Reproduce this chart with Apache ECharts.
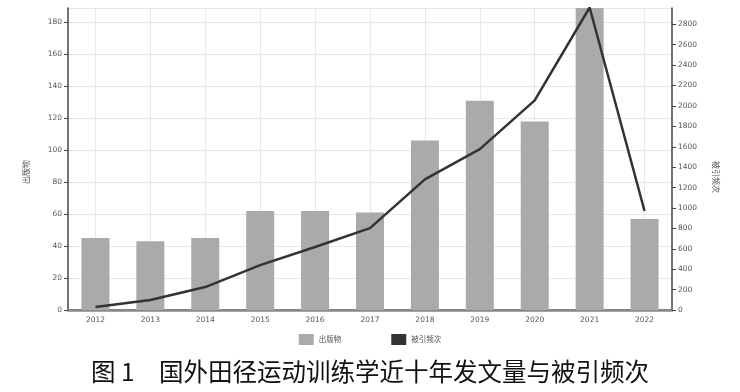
<!DOCTYPE html>
<html><head><meta charset="utf-8">
<script src="https://cdn.jsdelivr.net/npm/echarts@6/dist/echarts.min.js"></script>
<style>html,body{margin:0;padding:0;background:#fff}#c{width:740px;height:392px}</style>
</head><body><div id="c"></div>
<script>
const years = ['2012','2013','2014','2015','2016','2017','2018','2019','2020','2021','2022'];
const publications = [45, 43, 45, 62, 62, 61, 106, 131, 118, 189, 57];
const citations = [30, 98, 225, 440, 617, 803, 1280, 1577, 2055, 2965, 970];
const leftTicks = {min: 0, max: 189, interval: 20};
const rightTicks = {min: 0, max: 2960, interval: 200};

const chart = echarts.init(document.getElementById('c'));
const tickLabel = {fontSize: 7.5, color: '#555', fontFamily: 'DejaVu Sans'};
chart.setOption({
  animation: false,
  grid: {left: 68, right: 68, top: 8, bottom: 82},
  title: {
    text: '图 1\u3000国外田径运动训练学近十年发文量与被引频次',
    left: 'center', bottom: 3,
    textStyle: {fontSize: 24.5, fontWeight: 'normal', color: '#111', fontFamily: 'Noto Sans CJK SC'}
  },
  legend: {
    bottom: 42, left: 'center', itemWidth: 15, itemHeight: 11, itemGap: 50,
    icon: 'rect',
    textStyle: {fontSize: 7.5, color: '#555', fontFamily: 'Noto Sans CJK SC'},
    data: ['出版物', '被引频次']
  },
  xAxis: [{
    type: 'category', data: years, boundaryGap: true,
    axisLine: {lineStyle: {color: '#555', width: 1.5}},
    axisTick: {alignWithLabel: true, length: 4, lineStyle: {color: '#555'}},
    axisLabel: Object.assign({margin: 6}, tickLabel),
    splitLine: {show: false}
  }, {
    type: 'category', data: years, position: 'top',
    axisLine: {lineStyle: {color: '#888', width: 2.5}},
    axisTick: {show: false}, axisLabel: {show: false}
  }],
  yAxis: [{
    type: 'value', name: '出版物', nameLocation: 'middle', nameGap: 38, nameRotate: 90,
    nameTextStyle: {fontSize: 8, color: '#555', fontFamily: 'Noto Sans CJK SC', padding: [0, 26, 0, 0]},
    min: leftTicks.min, max: leftTicks.max, interval: leftTicks.interval,
    axisLine: {show: true, lineStyle: {color: '#444', width: 1.5}},
    axisTick: {show: true, length: 4, lineStyle: {color: '#444'}},
    axisLabel: Object.assign({margin: 6, showMaxLabel: false}, tickLabel),
    splitLine: {show: true, lineStyle: {color: '#e8e8e8', width: 1}}
  }, {
    type: 'value', name: '被引频次', nameLocation: 'middle', nameGap: 40, nameRotate: -90,
    nameTextStyle: {fontSize: 8, color: '#555', fontFamily: 'Noto Sans CJK SC', padding: [0, 0, 0, 36]},
    min: rightTicks.min, max: rightTicks.max, interval: rightTicks.interval,
    axisLine: {show: true, lineStyle: {color: '#444', width: 1.5}},
    axisTick: {show: true, length: 4, lineStyle: {color: '#444'}},
    axisLabel: Object.assign({margin: 6, showMaxLabel: false, formatter: v => String(v)}, tickLabel),
    splitLine: {show: false}
  }],
  series: [{
    name: 'grid', type: 'line', data: [], z: 0, silent: true,
    markLine: {
      silent: true, symbol: 'none', label: {show: false}, z: 0,
      lineStyle: {color: '#e8e8e8', type: 'solid', width: 1},
      data: years.map(y => ({xAxis: y}))
    }
  }, {
    name: '出版物', type: 'bar', data: publications, barWidth: '51%',
    itemStyle: {color: '#aaaaaa'},
    z: 2
  }, {
    name: '被引频次', type: 'line', yAxisIndex: 1, data: citations,
    showSymbol: false, symbol: 'none',
    lineStyle: {color: '#333', width: 2.5},
    itemStyle: {color: '#333'},
    z: 3
  }]
});
</script></body></html>
